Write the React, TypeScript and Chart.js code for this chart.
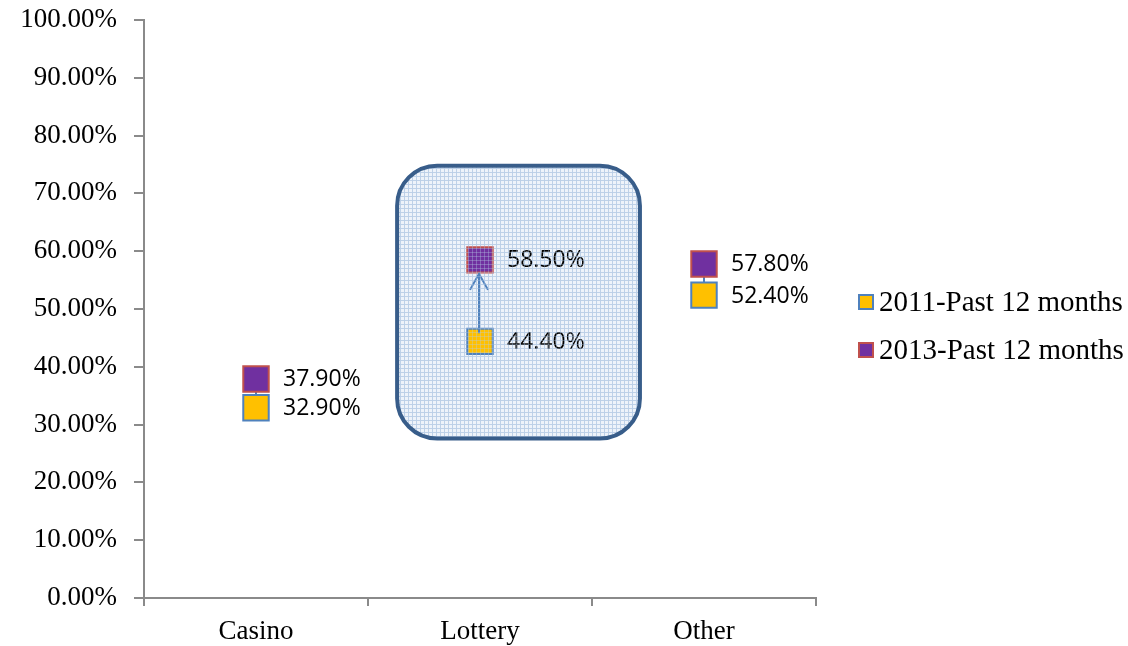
import React, { useEffect, useRef } from "react";
import { Chart, registerables } from "chart.js";

Chart.register(...registerables);

const categories = ["Casino", "Lottery", "Other"];
const seriesLabels = ["2011-Past 12 months", "2013-Past 12 months"];
const values2011 = [32.9, 44.4, 52.4];
const values2013 = [37.9, 58.5, 57.8];
const highlightIndex = 1;

const Y_MIN = 0;
const Y_MAX = 100;
const Y_STEP = 10;

// highlight box extents, in axis units
const BOX = { left: 0.63, right: 1.714, top: 74.8, bottom: 27.6, radius: 40 };

const YELLOW = "#FFC000";
const BLUE = "#4F81BD";
const PURPLE = "#7030A0";
const RED = "#C0504D";
const AXIS = "#8a8a8a";
const SERIF = "'Liberation Serif', serif";
const SANS = "'Open Sans', sans-serif";

function makePattern(ctx: CanvasRenderingContext2D, withBg: boolean) {
  const c = document.createElement("canvas");
  c.width = 4;
  c.height = 4;
  const p = c.getContext("2d")!;
  if (withBg) {
    p.fillStyle = "#eef3fa";
    p.fillRect(0, 0, 4, 4);
  }
  p.fillStyle = withBg ? "#c3d4ea" : "rgba(180,202,230,0.35)";
  p.fillRect(0, 0, 4, 1);
  p.fillRect(0, 0, 1, 4);
  return ctx.createPattern(c, "repeat")!;
}

function boxPath(chart: any) {
  const { ctx, scales } = chart;
  const x = scales.x, y = scales.y;
  const l = x.getPixelForValue(BOX.left);
  const r = x.getPixelForValue(BOX.right);
  const t = y.getPixelForValue(BOX.top);
  const b = y.getPixelForValue(BOX.bottom);
  ctx.beginPath();
  ctx.roundRect(l, t, r - l, b - t, BOX.radius);
}

const decorPlugin = {
  id: "decor",
  beforeDatasetsDraw(chart: any) {
    const { ctx, scales } = chart;
    const x = scales.x, y = scales.y;
    ctx.save();
    boxPath(chart);
    ctx.fillStyle = makePattern(ctx, true);
    ctx.fill();
    ctx.strokeStyle = BLUE;
    ctx.lineWidth = 2;
    categories.forEach((_, i) => {
      if (i === highlightIndex) return;
      const px = x.getPixelForValue(i);
      ctx.beginPath();
      ctx.moveTo(px, y.getPixelForValue(values2011[i]));
      ctx.lineTo(px, y.getPixelForValue(values2013[i]));
      ctx.stroke();
    });
    ctx.restore();
  },
  afterDatasetsDraw(chart: any) {
    const { ctx, scales } = chart;
    const x = scales.x, y = scales.y;
    ctx.save();
    const px = x.getPixelForValue(highlightIndex) - 1;
    const y0 = y.getPixelForValue(values2011[highlightIndex]) - 8;
    const y1 = y.getPixelForValue(values2013[highlightIndex]) + 14;
    ctx.strokeStyle = BLUE;
    ctx.lineWidth = 2;
    ctx.beginPath();
    ctx.moveTo(px, y0);
    ctx.lineTo(px, y1);
    ctx.moveTo(px - 9, y1 + 16);
    ctx.lineTo(px, y1);
    ctx.lineTo(px + 9, y1 + 16);
    ctx.stroke();
    ctx.fillStyle = "#000";
    ctx.font = `23px ${SANS}`;
    ctx.textAlign = "left";
    ctx.textBaseline = "middle";
    [values2011, values2013].forEach((arr) => {
      arr.forEach((v, i) => {
        ctx.fillText(v.toFixed(2) + "%", x.getPixelForValue(i) + 27, y.getPixelForValue(v) + 1);
      });
    });
    boxPath(chart);
    ctx.fillStyle = makePattern(ctx, false);
    ctx.fill();
    ctx.strokeStyle = "#385D8A";
    ctx.lineWidth = 4;
    ctx.stroke();
    ctx.restore();
  },
  afterDraw(chart: any) {
    const { ctx, chartArea } = chart;
    ctx.save();
    const lx = chartArea.right + 43;
    const rows = [302, 350];
    chart.data.datasets.forEach((ds: any, i: number) => {
      const cy = rows[i];
      ctx.fillStyle = ds.backgroundColor;
      ctx.strokeStyle = ds.borderColor;
      ctx.lineWidth = 2;
      ctx.fillRect(lx, cy - 7, 14, 14);
      ctx.strokeRect(lx, cy - 7, 14, 14);
      ctx.fillStyle = "#000";
      ctx.font = `29px ${SERIF}`;
      ctx.textAlign = "left";
      ctx.textBaseline = "middle";
      ctx.fillText(ds.label, lx + 20, cy + 1);
    });
    ctx.restore();
  },
};

export default function App() {
  const ref = useRef<HTMLCanvasElement>(null);
  useEffect(() => {
    document.body.style.margin = "0";
    const chart = new Chart(ref.current!, {
      type: "line",
      data: {
        labels: categories,
        datasets: [
          {
            label: seriesLabels[0],
            data: values2011,
            showLine: false,
            pointStyle: "rect",
            pointRadius: 18,
            pointBorderWidth: 2,
            backgroundColor: YELLOW,
            borderColor: BLUE,
            pointBackgroundColor: YELLOW,
            pointBorderColor: BLUE,
          },
          {
            label: seriesLabels[1],
            data: values2013,
            showLine: false,
            pointStyle: "rect",
            pointRadius: 18,
            pointBorderWidth: 2,
            backgroundColor: PURPLE,
            borderColor: RED,
            pointBackgroundColor: PURPLE,
            pointBorderColor: RED,
          },
        ],
      },
      options: {
        responsive: false,
        animation: false,
        layout: { padding: { top: 19, right: 312, left: 0, bottom: 0 } },
        plugins: { legend: { display: false }, tooltip: { enabled: false } },
        scales: {
          x: {
            offset: true,
            grid: { offset: true, drawOnChartArea: false, color: AXIS, lineWidth: 2, tickLength: 8 },
            border: { color: AXIS, width: 2 },
            ticks: { color: "#000", font: { family: SERIF, size: 27 }, padding: 10 },
            afterFit: (s: any) => { s.height = 48; s.paddingLeft = 0; s.paddingRight = 0; },
          },
          y: {
            min: Y_MIN,
            max: Y_MAX,
            grid: { drawOnChartArea: false, color: AXIS, lineWidth: 2, tickLength: 10 },
            border: { color: AXIS, width: 2 },
            ticks: {
              stepSize: Y_STEP,
              color: "#000",
              font: { family: SERIF, size: 27 },
              padding: 17,
              callback: (v: any) => Number(v).toFixed(2) + "%",
            },
            afterFit: (s: any) => { s.width = 144; s.paddingTop = 0; s.paddingBottom = 0; },
          },
        },
      },
      plugins: [decorPlugin],
    });
    return () => chart.destroy();
  }, []);
  return <canvas ref={ref} width={1128} height={646} style={{ display: "block" }} />;
}
